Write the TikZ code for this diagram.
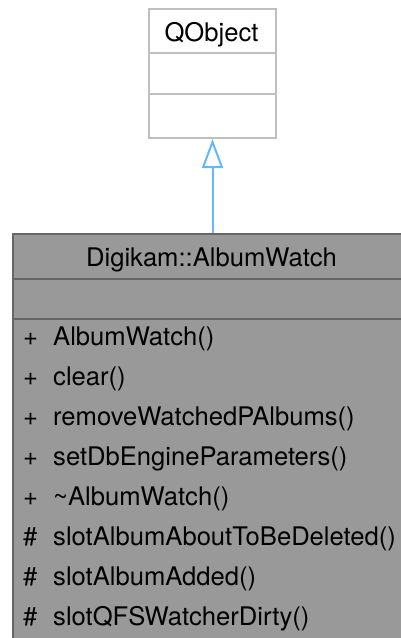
\documentclass[tikz,border=0pt]{standalone}
\usepackage{fontspec}
\setmainfont{TeX Gyre Heros}
\usetikzlibrary{arrows.meta}
\definecolor{qline}{HTML}{BFBFBF}
\definecolor{awfill}{HTML}{999999}
\definecolor{awline}{HTML}{666666}
\definecolor{inh}{HTML}{63B8FF}
\begin{document}
\begin{tikzpicture}[x=1pt,y=-1pt,
  txt/.style={font=\fontsize{25.6}{30}\selectfont, inner sep=0pt, text=black},
  ttl/.style={txt, anchor=base},
  mem/.style={txt, anchor=base west},
  qbox/.style={draw=qline, line width=2pt, fill=white, inner sep=0pt, anchor=north west},
  awbox/.style={draw=awline, line width=2pt, fill=awfill, inner sep=0pt, anchor=north west},
  inherit/.style={draw=inh, line width=2pt, -{Triangle[open, length=29pt, width=21pt, fill=white]}}]
\useasboundingbox (0,0) rectangle (400,638);
% QObject box
\node[qbox, minimum width=127pt, minimum height=129pt] (qo) at (148,8) {};
\draw[qline, line width=2pt] (148,53) -- (275,53);
\draw[qline, line width=2pt] (148,94) -- (275,94);
\node[ttl] (qot) at (211.5,41) {QObject};
% AlbumWatch box
\node[awbox, minimum width=400pt, minimum height=440pt] (aw) at (11.5,232.5) {};
\draw[awline, line width=2pt] (11.5,279) -- (411.5,279);
\draw[awline, line width=2pt] (11.5,319) -- (411.5,319);
\node[ttl] (awt) at (211.5,266) {Digikam::AlbumWatch};
% members
\foreach \v/\n [count=\i from 0] in {+/AlbumWatch(), +/clear(), +/removeWatchedPAlbums(), +/setDbEngineParameters(), +/\textasciitilde AlbumWatch(), \#/slotAlbumAboutToBeDeleted(), \#/slotAlbumAdded(), \#/slotQFSWatcherDirty()}{
  \node[mem] (v\i) at (23,345+40*\i) {\v};
  \node[mem] (m\i) at (53,345+40*\i) {\n};
}
% inheritance
\draw[inherit] (aw.north) -- (qo.south);
\end{tikzpicture}
\end{document}
